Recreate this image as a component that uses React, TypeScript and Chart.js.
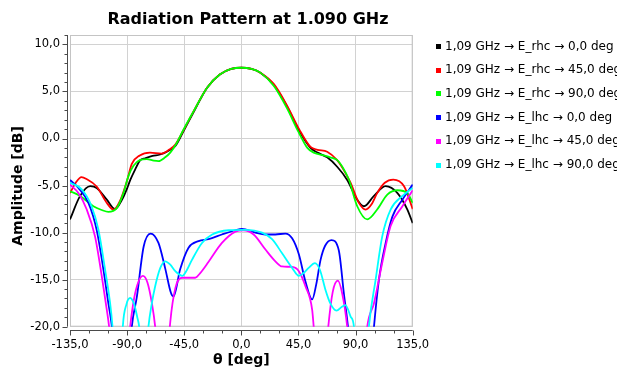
import React, { useEffect, useRef } from 'react';
import { Chart, registerables } from 'chart.js';

Chart.register(...registerables);

const TITLE = 'Radiation Pattern at 1.090 GHz';
const X_TITLE = 'θ [deg]';
const Y_TITLE = 'Amplitude [dB]';

const seriesLabels = [
  '1,09 GHz → E_rhc → 0,0 deg',
  '1,09 GHz → E_rhc → 45,0 deg',
  '1,09 GHz → E_rhc → 90,0 deg',
  '1,09 GHz → E_lhc → 0,0 deg',
  '1,09 GHz → E_lhc → 45,0 deg',
  '1,09 GHz → E_lhc → 90,0 deg',
];
const seriesColors = ['#000000', '#ff0000', '#00ff00', '#0000ff', '#ff00ff', '#00ffff'];

const thetaMin = -135;
const thetaMax = 135;
const thetaStep = 45;
const thetaMinorStep = 15;
const ampMin = -20;
const ampMax = 11;
const ampStep = 5;
const ampMinorStep = 1;
const ampTicks = [-20, -15, -10, -5, 0, 5, 10];

// [theta deg, amplitude dB]
const rhc0: [number, number][] = [
  [-135, -8.6], [-127, -6.1], [-119, -5.07], [-114, -5.25], [-106, -6.5], [-99.5, -7.5], [-94, -6.5],
  [-90, -5.3], [-87.5, -4.4], [-83.7, -3.3], [-79.7, -2.3], [-75.8, -2.1], [-70, -1.85], [-64, -1.7],
  [-58, -1.35], [-52, -0.8], [-45.5, 0.8], [-38, 2.7], [-27, 5.4], [-17, 6.8], [-8, 7.4], [0, 7.52],
  [8, 7.4], [15, 7.0], [25.5, 5.7], [36, 3.4], [46, 0.7], [54.5, -1.0], [60, -1.5], [67.6, -2.0],
  [75.5, -3.0], [83.4, -4.4], [91.3, -6.5], [96.6, -7.2], [104.5, -6.1], [113.7, -5.07], [123, -5.8],
  [130.8, -7.55], [135, -9.0],
];
const rhc45: [number, number][] = [
  [-135, -5.8], [-130, -4.6], [-126, -4.1], [-122, -4.3], [-114, -5.1], [-106, -6.84], [-100.8, -7.55],
  [-95.5, -6.6], [-90.3, -4.6], [-86.3, -2.7], [-80, -1.8], [-72, -1.5], [-63, -1.6], [-57, -1.2],
  [-52, -0.64], [-45.5, 0.9], [-38, 2.8], [-27, 5.4], [-17, 6.8], [-8, 7.4], [0, 7.52], [8, 7.4],
  [15, 7.0], [25.5, 5.8], [36, 3.5], [45.5, 1.0], [54.5, -0.9], [60, -1.2], [67.6, -1.4], [75.5, -2.3],
  [80, -3.2], [86, -4.7], [92.6, -6.84], [97.9, -7.55], [103, -6.9], [107, -5.8], [113, -4.7],
  [119.7, -4.36], [128.2, -5.07], [135, -7.5],
];
const rhc90: [number, number][] = [
  [-135, -5.6], [-127, -6.1], [-116.6, -7.2], [-110, -7.6], [-104.8, -7.8], [-98.2, -7.4], [-92.9, -5.8],
  [-89, -4.0], [-85, -2.9], [-80, -2.3], [-74.5, -2.2], [-69, -2.35], [-65.3, -2.4], [-60, -2.0],
  [-56, -1.5], [-51, -0.5], [-45.5, 0.96], [-38, 2.8], [-27, 5.4], [-17, 6.8], [-8, 7.4], [0, 7.52],
  [8, 7.4], [15, 7.0], [25.5, 5.6], [36, 3.2], [45, 0.7], [52, -1.0], [57, -1.5], [65, -1.8], [70, -2.0],
  [75.5, -2.3], [80, -3.1], [84.7, -4.36], [91.3, -7.2], [99.2, -8.6], [107, -7.55], [115, -5.96],
  [123, -5.5], [130.8, -5.8], [135, -6.85],
];
const lhc0: [number, number][] = [
  [-135, -4.4], [-128.4, -5.25], [-120.5, -6.84], [-114, -9.7], [-108.7, -13.9], [-104.8, -17.5],
  [-102, -20], [-99, -25], [-94, -32], [-89, -25], [-86.3, -20], [-82.3, -16.8], [-77, -11.5],
  [-71.5, -10.1], [-65.3, -11.1], [-60, -13.8], [-55.5, -16.4], [-53.5, -16.8], [-48.2, -13.9],
  [-41.6, -11.6], [-33.7, -10.9], [-25.8, -10.7], [-15.3, -10.2], [-4.7, -9.75], [0.5, -9.6],
  [11, -10.0], [19, -10.2], [26.8, -10.2], [34.7, -10.1], [40, -10.6], [45.3, -12.3], [50.5, -15.2],
  [55.8, -17.1], [59, -15.5], [62.4, -12.9], [66, -11.4], [71, -10.8], [76.8, -11.9], [80.8, -16.5],
  [84, -20], [88, -26], [94, -32], [101, -26], [104.5, -20], [108.4, -15], [113.7, -11.1], [119, -8.3],
  [126.9, -6.5], [135, -4.9],
];
const lhc45: [number, number][] = [
  [-135, -4.9], [-128.4, -5.8], [-121.8, -7.55], [-115.3, -10.4], [-110, -14.6], [-106, -18.2],
  [-104.2, -20], [-101, -25], [-96, -32], [-91, -25], [-87.6, -20], [-84.5, -17], [-81, -15.2],
  [-77.6, -14.6], [-74, -15.3], [-70.5, -17.5], [-67.9, -20], [-65, -25], [-62, -32], [-59, -25],
  [-56, -19.5], [-52, -15.9], [-46.8, -14.8], [-40, -14.8], [-36.3, -14.8], [-32.4, -14.3],
  [-25.8, -13.1], [-15.3, -11.1], [-4.7, -9.9], [1.8, -9.75], [9.7, -10.2], [19, -11.8], [26.8, -13.05],
  [32.1, -13.6], [40, -13.65], [45.3, -14.1], [50.5, -15.7], [55.8, -18.2], [57, -20], [60, -25],
  [62.5, -32], [65.5, -25], [68.5, -20], [72, -16.3], [76, -15.1], [79.5, -16.5], [83.4, -20],
  [86.5, -25], [91, -32], [96, -25], [99.2, -20], [104.5, -17.5], [111, -13.2], [117.6, -9.3],
  [126.9, -7.2], [135, -5.5],
];
const lhc90: [number, number][] = [
  [-135, -4.7], [-125.8, -5.4], [-118, -7.2], [-112.6, -9.7], [-107.4, -13.9], [-103.4, -17.5],
  [-101.5, -20], [-99, -25], [-97, -28], [-95, -25], [-93.4, -20], [-90.5, -17.6], [-87.6, -16.95],
  [-84.5, -17.6], [-82, -19], [-80.5, -20], [-78, -24], [-75.5, -24], [-73.2, -20], [-70.5, -17.5],
  [-67.9, -15.7], [-64, -13.8], [-60, -13.05], [-56, -13.4], [-52, -14.1], [-46.5, -14.6], [-43, -14.0],
  [-38.9, -12.9], [-31, -11.1], [-23, -10.2], [-10, -9.75], [3, -9.7], [16.3, -10.0], [24.2, -10.7],
  [32.1, -12.2], [40, -13.75], [45.3, -14.6], [49, -14.3], [53, -13.75], [58, -13.25], [62, -14.0],
  [66.3, -16.1], [70, -17.5], [75, -18.3], [79, -17.9], [82, -17.7], [86, -18.9], [88.7, -20],
  [91, -25], [95, -30], [98, -25], [100.5, -20], [105.8, -15], [111, -10.4], [117.6, -7.55],
  [126.9, -6.1], [135, -5.25],
];

const seriesData = [rhc0, rhc45, rhc90, lhc0, lhc45, lhc90];

const fmt = (v: number) => v.toFixed(1).replace('.', ',');
const FONT = "'DejaVu Sans', sans-serif";

const decorPlugin = {
  id: 'decor',
  beforeDatasetsDraw(chart: any) {
    const { ctx, chartArea: a } = chart;
    ctx.save();
    ctx.strokeStyle = '#c4c4c4';
    ctx.lineWidth = 1;
    ctx.strokeRect(a.left + 0.5, a.top + 0.5, a.right - a.left - 1, a.bottom - a.top - 1);
    ctx.restore();
  },
  afterDraw(chart: any) {
    const { ctx, chartArea: a, scales } = chart;
    const xs = scales.x;
    const ys = scales.y;
    ctx.save();
    ctx.strokeStyle = '#4a4a4a';
    ctx.lineWidth = 1;
    const axX = Math.round(a.left) - 2.5;
    const axY = Math.round(a.bottom) + 3.5;
    ctx.beginPath();
    ctx.moveTo(axX, a.top);
    ctx.lineTo(axX, a.bottom);
    ctx.moveTo(a.left, axY);
    ctx.lineTo(a.right, axY);
    for (let v = ampMin; v <= ampMax; v += ampMinorStep) {
      const y = Math.round(ys.getPixelForValue(v)) + 0.5;
      const len = v % ampStep === 0 ? 5 : 3;
      ctx.moveTo(axX - len, y);
      ctx.lineTo(axX, y);
    }
    for (let v = thetaMin; v <= thetaMax; v += thetaMinorStep) {
      const x = Math.round(xs.getPixelForValue(v)) + 0.5;
      const len = v % thetaStep === 0 ? 5 : 3;
      ctx.moveTo(x, axY);
      ctx.lineTo(x, axY + len);
    }
    ctx.stroke();

    // titles
    ctx.fillStyle = '#000';
    ctx.textBaseline = 'middle';
    ctx.textAlign = 'center';
    ctx.font = `bold 16px ${FONT}`;
    ctx.fillText(TITLE, 248, 20);
    ctx.font = `bold 14px ${FONT}`;
    ctx.fillText(X_TITLE, (a.left + a.right) / 2, 360);
    ctx.save();
    ctx.translate(18, 186);
    ctx.rotate(-Math.PI / 2);
    ctx.fillText(Y_TITLE, 0, 0);
    ctx.restore();

    // legend
    ctx.textAlign = 'left';
    ctx.font = `12px ${FONT}`;
    chart.data.datasets.forEach((ds: any, i: number) => {
      const y = 46 + i * 23.7;
      ctx.fillStyle = ds.borderColor;
      ctx.fillRect(436, Math.round(y) - 2, 5, 5);
      ctx.fillStyle = '#000';
      ctx.fillText(ds.label, 445, y + 0.5);
    });
    ctx.restore();
  },
};

export default function App() {
  const canvasRef = useRef<HTMLCanvasElement | null>(null);

  useEffect(() => {
    if (!canvasRef.current) return;
    Chart.defaults.font.family = FONT;
    const chart = new Chart(canvasRef.current, {
      type: 'line',
      data: {
        datasets: seriesData.map((pts, i) => ({
          label: seriesLabels[i],
          data: pts.map(([x, y]) => ({ x, y })),
          borderColor: seriesColors[i],
          backgroundColor: seriesColors[i],
          borderWidth: 1.8,
          pointRadius: 0,
          fill: false,
          cubicInterpolationMode: 'monotone' as const,
          clip: 0,
          order: seriesData.length - 1 - i,
        })),
      },
      options: {
        responsive: false,
        animation: false,
        devicePixelRatio: 1,
        layout: { padding: { top: 35, right: 617 - 412.7, left: 0, bottom: 0 } },
        plugins: {
          legend: { display: false },
          title: { display: false },
          tooltip: { enabled: false },
        },
        scales: {
          x: {
            type: 'linear',
            min: thetaMin,
            max: thetaMax,
            ticks: {
              stepSize: thetaStep,
              callback: (v: any) => fmt(Number(v)),
              color: '#000',
              font: { size: 11.5 },
              padding: 3,
              maxRotation: 0,
              autoSkip: false,
            },
            grid: { color: '#d2d2d2', lineWidth: 1, tickColor: 'rgba(0,0,0,0)', tickLength: 8 },
            border: { display: false },
            afterFit: (s: any) => {
              s.height = 371 - 326.7;
            },
          },
          y: {
            type: 'linear',
            min: ampMin,
            max: ampMax,
            ticks: {
              callback: (v: any) => fmt(Number(v)),
              color: '#000',
              font: { size: 11.5 },
              padding: 2,
              autoSkip: false,
            },
            afterBuildTicks: (s: any) => {
              s.ticks = ampTicks.map((value) => ({ value }));
            },
            grid: { color: '#d2d2d2', lineWidth: 1, tickColor: 'rgba(0,0,0,0)', tickLength: 8 },
            border: { display: false },
            afterFit: (s: any) => {
              s.width = 70;
            },
          },
        },
      },
      plugins: [decorPlugin],
    } as any);
    return () => chart.destroy();
  }, []);

  return (
    <div style={{ position: 'absolute', left: 0, top: 0, width: 617, height: 371, background: '#fff' }}>
      <canvas ref={canvasRef} width={617} height={371} style={{ display: 'block' }} />
    </div>
  );
}
